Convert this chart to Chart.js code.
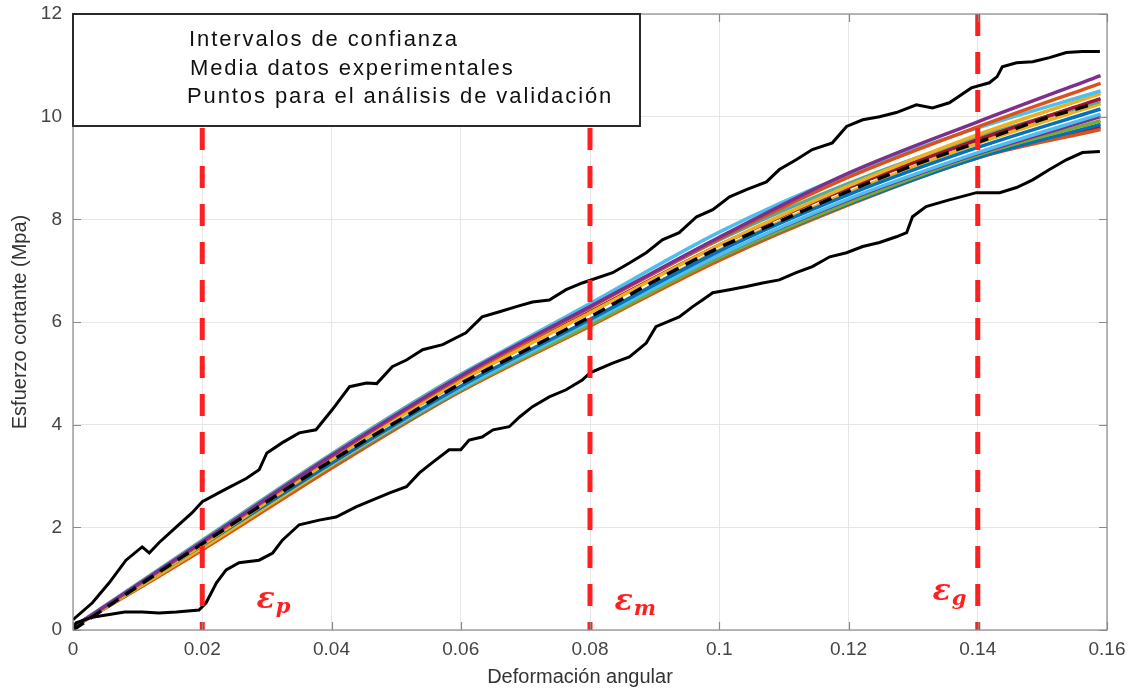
<!DOCTYPE html>
<html>
<head>
<meta charset="utf-8">
<script src="https://cdn.jsdelivr.net/npm/chart.js@4.4.1/dist/chart.umd.min.js"></script>
<style>
  html, body { margin: 0; padding: 0; background: #ffffff; }
  canvas { display: block; }
</style>
</head>
<body>
<canvas id="chart" width="1141" height="693"></canvas>
<script>
// x ticks / y ticks
const xTicks = [0, 0.02, 0.04, 0.06, 0.08, 0.1, 0.12, 0.14, 0.16];
const yTicks = [0, 2, 4, 6, 8, 10, 12];

// validation points (red dashed verticals)
const validX = [0.02, 0.08, 0.14];
const validNames = ["p", "m", "g"];

// confidence interval - upper
const upperX = [0, 0.003, 0.0056, 0.0082, 0.0107, 0.0118, 0.0133, 0.016, 0.0184, 0.02, 0.0237, 0.0268, 0.0288, 0.030, 0.0324, 0.035, 0.0376, 0.0401, 0.0428, 0.0454, 0.047, 0.0494, 0.0516, 0.0541, 0.0572, 0.0608, 0.0633, 0.066, 0.0686, 0.0711, 0.0737, 0.0763, 0.0788, 0.0835, 0.0861, 0.0887, 0.0912, 0.0938, 0.0965, 0.099, 0.1016, 0.1042, 0.1073, 0.1093, 0.1119, 0.1144, 0.1175, 0.1197, 0.1222, 0.1248, 0.1274, 0.1305, 0.133, 0.1356, 0.137, 0.139, 0.1418, 0.143, 0.1438, 0.146, 0.1485, 0.1511, 0.1537, 0.1562, 0.1589];
const upperY = [0.2, 0.53, 0.92, 1.36, 1.62, 1.5, 1.7, 2.01, 2.28, 2.5, 2.75, 2.95, 3.12, 3.45, 3.65, 3.84, 3.9, 4.29, 4.74, 4.81, 4.8, 5.13, 5.26, 5.46, 5.56, 5.79, 6.1, 6.2, 6.3, 6.39, 6.43, 6.63, 6.76, 6.96, 7.15, 7.35, 7.6, 7.74, 8.05, 8.19, 8.44, 8.58, 8.73, 8.97, 9.16, 9.36, 9.49, 9.81, 9.94, 10.0, 10.08, 10.23, 10.17, 10.27, 10.39, 10.56, 10.66, 10.78, 10.97, 11.05, 11.07, 11.15, 11.25, 11.27, 11.27];

// confidence interval - lower
const lowerX = [0, 0.0005, 0.003, 0.008, 0.0107, 0.0133, 0.016, 0.0195, 0.0206, 0.0222, 0.0237, 0.0257, 0.0288, 0.0309, 0.0324, 0.035, 0.0381, 0.0407, 0.0438, 0.0463, 0.049, 0.0516, 0.0536, 0.0556, 0.0582, 0.060, 0.0613, 0.0633, 0.065, 0.0675, 0.0691, 0.0711, 0.0737, 0.0763, 0.0788, 0.080, 0.0835, 0.0861, 0.0887, 0.0902, 0.0938, 0.0959, 0.0974, 0.099, 0.1016, 0.1042, 0.1067, 0.1093, 0.1119, 0.1144, 0.1171, 0.1197, 0.1222, 0.1248, 0.1274, 0.129, 0.1299, 0.132, 0.1356, 0.1398, 0.1434, 0.146, 0.1485, 0.1511, 0.1537, 0.1562, 0.1589];
const lowerY = [0.05, 0.14, 0.25, 0.35, 0.35, 0.33, 0.35, 0.39, 0.53, 0.92, 1.17, 1.31, 1.36, 1.5, 1.75, 2.05, 2.14, 2.2, 2.4, 2.53, 2.67, 2.79, 3.06, 3.26, 3.51, 3.51, 3.7, 3.76, 3.9, 3.96, 4.15, 4.35, 4.54, 4.68, 4.87, 5.01, 5.2, 5.32, 5.59, 5.91, 6.1, 6.3, 6.43, 6.57, 6.63, 6.69, 6.76, 6.82, 6.96, 7.08, 7.27, 7.35, 7.47, 7.55, 7.66, 7.74, 8.05, 8.25, 8.38, 8.52, 8.52, 8.62, 8.77, 8.97, 9.16, 9.3, 9.32];

// mean of experimental data
const meanX = [0, 0.01, 0.02, 0.03, 0.04, 0.05, 0.06, 0.07, 0.08, 0.09, 0.1, 0.11, 0.12, 0.13, 0.14, 0.15, 0.158];
const meanY = [0, 0.85, 1.68, 2.5, 3.3, 4.05, 4.8, 5.45, 6.1, 6.8, 7.45, 8.0, 8.55, 9.05, 9.5, 9.95, 10.25];

// simulated curves
const simX = [0, 0.02, 0.04, 0.06, 0.08, 0.1, 0.12, 0.14, 0.159];
const sim1 = [0.05, 1.72, 3.4, 4.95, 6.3, 7.65, 8.9, 9.9, 10.8];
const sim2 = [0.05, 1.7, 3.38, 4.92, 6.28, 7.62, 8.82, 9.8, 10.65];
const sim3 = [0.05, 1.73, 3.41, 4.97, 6.36, 7.75, 8.88, 9.78, 10.5];
const sim4 = [0.05, 1.66, 3.32, 4.85, 6.18, 7.5, 8.65, 9.65, 10.45];
const sim5 = [0.05, 1.68, 3.35, 4.85, 6.2, 7.5, 8.62, 9.55, 10.35];
const sim6 = [0.05, 1.75, 3.43, 4.98, 6.3, 7.6, 8.7, 9.6, 10.3];
const sim7 = [0.05, 1.65, 3.25, 4.75, 6.05, 7.38, 8.48, 9.4, 10.15];
const sim8 = [0.05, 1.6, 3.22, 4.75, 6.05, 7.4, 8.52, 9.48, 10.25];
const sim9 = [0.05, 1.62, 3.22, 4.7, 6.0, 7.3, 8.4, 9.3, 10.05];
const sim10 = [0.05, 1.64, 3.22, 4.72, 6.02, 7.3, 8.38, 9.28, 10.0];
const sim11 = [0.05, 1.6, 3.2, 4.68, 5.95, 7.25, 8.32, 9.25, 9.92];
const sim12 = [0.05, 1.62, 3.2, 4.68, 5.98, 7.25, 8.3, 9.2, 9.85];
const sim13 = [0.05, 1.56, 3.15, 4.65, 5.92, 7.2, 8.28, 9.2, 9.75];
const sim14 = [0.05, 1.6, 3.18, 4.66, 5.95, 7.22, 8.3, 9.22, 9.8];
const simSeries = [sim1, sim2, sim3, sim4, sim5, sim6, sim7, sim8, sim9, sim10, sim11, sim12, sim13, sim14];
const simColors = ['#7E2F8E', '#D95319', '#4DBEEE', '#EDB120', '#A2142F', '#5aa89a', '#0072BD', '#EDB120', '#4DBEEE', '#7E2F8E', '#77AC30', '#0072BD', '#D95319', '#A2142F'];

const legendLines = ["Intervalos de confianza", "Media datos experimentales", "Puntos para el análisis de validación"];
const xTitle = "Deformación angular";
const yTitle = "Esfuerzo cortante (Mpa)";

function pts(xs, ys) {
  return xs.map((x, i) => ({ x: x, y: ys[i] }));
}

let datasets = [];

simSeries.forEach((s, i) => {
  datasets.push({
    data: pts(simX, s),
    borderColor: simColors[i],
    borderWidth: 3.5,
    pointRadius: 0,
    cubicInterpolationMode: 'monotone',
    order: 4
  });
});

datasets.push({ data: pts(upperX, upperY), borderColor: '#000000', borderWidth: 3, pointRadius: 0, tension: 0, order: 3 });
datasets.push({ data: pts(lowerX, lowerY), borderColor: '#000000', borderWidth: 3, pointRadius: 0, tension: 0, order: 3 });

datasets.push({
  data: pts(meanX, meanY),
  borderColor: '#000000',
  borderWidth: 3.5,
  borderDash: [13, 8],
  pointRadius: 0,
  cubicInterpolationMode: 'monotone',
  order: 2
});

validX.forEach(v => {
  datasets.push({
    data: [{ x: v, y: 12 }, { x: v, y: 0 }],
    borderColor: '#ff1f1f',
    borderWidth: 5,
    borderDash: [22, 16],
    pointRadius: 0,
    order: 1
  });
});

const fam = '"Liberation Sans", Arial, sans-serif';

// box, inward ticks, epsilon labels, legend, x title
const extras = {
  id: 'extras',
  afterDraw(chart) {
    const ctx = chart.ctx;
    const a = chart.chartArea;
    const xs = chart.scales.x, ys = chart.scales.y;
    ctx.save();

    // axes box
    ctx.strokeStyle = '#8a8a8a';
    ctx.lineWidth = 1.2;
    ctx.strokeRect(a.left, a.top, a.right - a.left, a.bottom - a.top);

    // inward ticks
    ctx.beginPath();
    xTicks.forEach(t => {
      const p = Math.round(xs.getPixelForValue(t)) + 0.5;
      ctx.moveTo(p, a.bottom); ctx.lineTo(p, a.bottom - 8);
      ctx.moveTo(p, a.top); ctx.lineTo(p, a.top + 8);
    });
    yTicks.forEach(t => {
      const p = Math.round(ys.getPixelForValue(t)) + 0.5;
      ctx.moveTo(a.left, p); ctx.lineTo(a.left + 8, p);
      ctx.moveTo(a.right, p); ctx.lineTo(a.right - 8, p);
    });
    ctx.stroke();

    // x axis title
    ctx.fillStyle = '#333333';
    ctx.font = '20px ' + fam;
    ctx.textAlign = 'center';
    ctx.textBaseline = 'middle';
    ctx.fillText(xTitle, 580, 677);

    // epsilon labels
    const labelPos = [[0.0284, 0.43], [0.0838, 0.39], [0.133, 0.58]];
    ctx.fillStyle = '#ff1f1f';
    ctx.textBaseline = 'alphabetic';
    ctx.textAlign = 'left';
    validNames.forEach((n, i) => {
      const px = xs.getPixelForValue(labelPos[i][0]);
      const py = ys.getPixelForValue(labelPos[i][1]);
      ctx.font = 'bold italic 30px "DejaVu Serif"';
      ctx.fillText('ε', px, py);
      const w = ctx.measureText('ε').width;
      ctx.font = 'bold italic 21px "DejaVu Serif"';
      ctx.fillText(n, px + w + 1, py + 5);
    });

    // legend box
    const bx = a.left, by = a.top, bw = 567, bh = 112;
    ctx.fillStyle = '#ffffff';
    ctx.fillRect(bx, by, bw, bh);
    ctx.strokeStyle = '#2a2a2a';
    ctx.lineWidth = 2;
    ctx.strokeRect(bx, by, bw, bh);
    ctx.fillStyle = '#111111';
    ctx.font = '22px ' + fam;
    ctx.letterSpacing = '1.9px';
    const lx = [189, 190, 187];
    const lb = [46, 75, 103];
    legendLines.forEach((t, i) => ctx.fillText(t, lx[i], lb[i]));
    ctx.restore();
  }
};

const tickFont = { family: fam, size: 19 };

new Chart(document.getElementById('chart'), {
  type: 'line',
  data: { datasets: datasets },
  options: {
    responsive: false,
    animation: false,
    devicePixelRatio: 1,
    layout: { padding: { top: 14, right: 34, left: 0, bottom: 0 } },
    plugins: { legend: { display: false }, tooltip: { enabled: false } },
    scales: {
      x: {
        type: 'linear',
        min: 0, max: 0.16,
        afterBuildTicks: s => { s.ticks = xTicks.map(v => ({ value: v })); },
        afterFit: s => { s.height = 63; s.paddingLeft = 0; s.paddingRight = 0; },
        ticks: {
          color: '#444444', font: tickFont, padding: 8, maxRotation: 0,
          callback: v => String(Number(v.toFixed(2)))
        },
        grid: { color: '#e6e6e6', drawTicks: false },
        border: { display: false }
      },
      y: {
        min: 0, max: 12,
        afterBuildTicks: s => { s.ticks = yTicks.map(v => ({ value: v })); },
        afterFit: s => { s.width = 73; s.paddingTop = 0; s.paddingBottom = 0; },
        ticks: { color: '#444444', font: tickFont, padding: 11 },
        grid: { color: '#e6e6e6', drawTicks: false },
        border: { display: false },
        title: { display: true, text: yTitle, color: '#333333', font: { family: fam, size: 20 }, padding: { top: 8, bottom: 0 } }
      }
    }
  },
  plugins: [extras]
});
</script>
</body>
</html>
